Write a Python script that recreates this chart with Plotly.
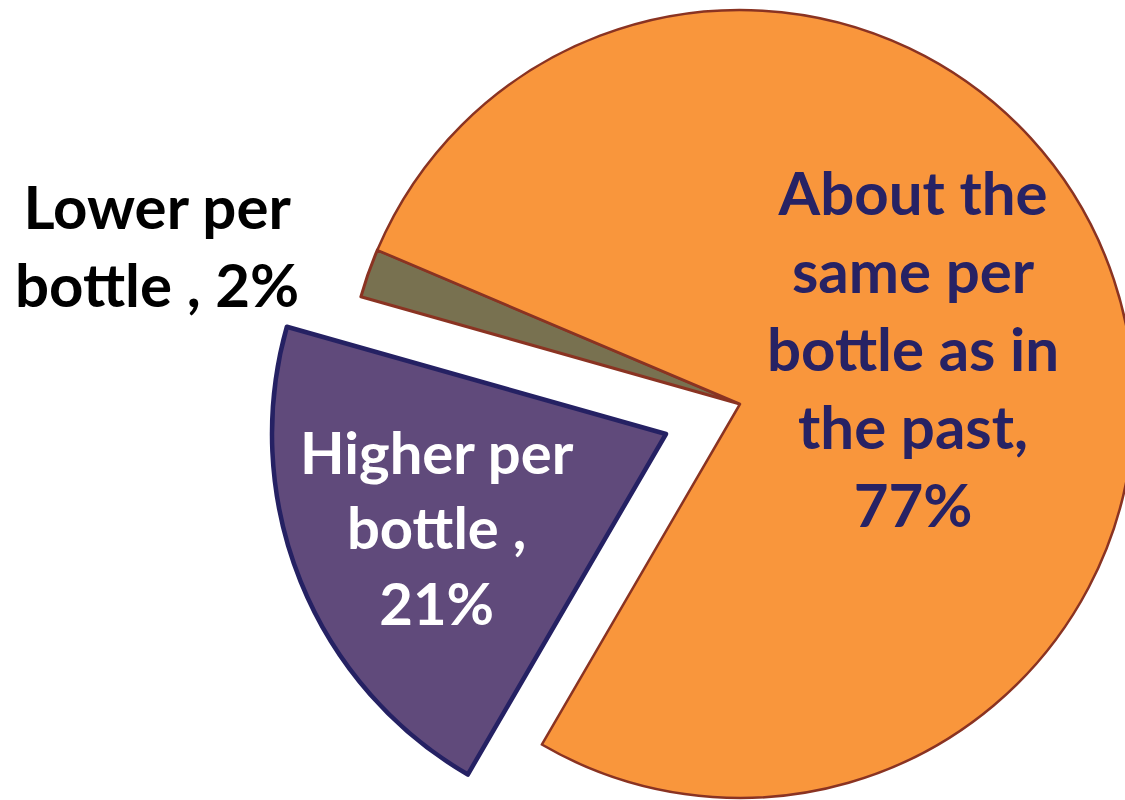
import plotly.graph_objects as go

# Survey answers: how much people spend per bottle compared with the past
categories = ["Higher per bottle ", "Lower per bottle ", "About the same per bottle as in the past"]
shares = [21, 2, 77]
# Display wrapping of each category label
category_lines = [
    ["Higher per", "bottle ,"],
    ["Lower per", "bottle ,"],
    ["About the", "same per", "bottle as in", "the past,"],
]

slice_colors = ["#604A7B", "#787150", "#F9963C"]
border_colors = ["#252163", "#8A3322", "#8A3322"]
border_widths = [4.5, 3, 2.5]
label_colors = ["#FFFFFF", "#000000", "#272264"]

FIG_W, FIG_H = 1140, 830
R = 394                      # pie radius in px
CENTER = (740, 404)          # pie centre in px (from top-left)
PULL_OFFSET = (-74, 30)      # displacement of the exploded "Higher" slice
START = -149.8               # start angle of the first slice, clockwise from 12 o'clock


def domain_for(cx, cy):
    return dict(
        x=[(cx - R) / FIG_W, (cx + R) / FIG_W],
        y=[(FIG_H - (cy + R)) / FIG_H, (FIG_H - (cy - R)) / FIG_H],
    )


def masked(values, keep, base):
    return [c if i in keep else "rgba(0,0,0,0)" for i, c in enumerate(base)]


fig = go.Figure()

# Main pie: "Lower" and "About the same" slices
fig.add_trace(go.Pie(
    labels=categories, values=shares, sort=False, direction="clockwise",
    rotation=START, textinfo="none", hoverinfo="label+percent",
    marker=dict(
        colors=masked(shares, {1, 2}, slice_colors),
        line=dict(color=masked(shares, {1, 2}, border_colors), width=border_widths),
    ),
    domain=domain_for(*CENTER), showlegend=False,
))

# Exploded "Higher" slice, same pie shifted outwards
fig.add_trace(go.Pie(
    labels=categories, values=shares, sort=False, direction="clockwise",
    rotation=START, textinfo="none", hoverinfo="label+percent",
    marker=dict(
        colors=masked(shares, {0}, slice_colors),
        line=dict(color=masked(shares, {0}, border_colors), width=border_widths),
    ),
    domain=domain_for(CENTER[0] + PULL_OFFSET[0], CENTER[1] + PULL_OFFSET[1]),
    showlegend=False,
))

# Data labels: wrapped category name followed by the share
label_pos = [(437, 527), (157, 245), (913, 348)]
label_size = [58, 60, 60]
for i, (lines, val) in enumerate(zip(category_lines, shares)):
    if i == 1:
        text = lines[0] + "<br>" + lines[1] + f" {val}%"
    else:
        text = "<br>".join(lines) + f"<br>{val}%"
    x, y = label_pos[i]
    fig.add_annotation(
        x=x / FIG_W, y=1 - y / FIG_H, xref="paper", yref="paper",
        text=f"<b>{text}</b>", showarrow=False, align="center",
        xanchor="center", yanchor="middle",
        font=dict(family="Lato", size=label_size[i], color=label_colors[i]),
    )

fig.update_layout(
    width=FIG_W, height=FIG_H,
    margin=dict(l=0, r=0, t=0, b=0),
    paper_bgcolor="white", plot_bgcolor="white",
    showlegend=False,
)

fig.write_html(
    "out.html",
    post_script="document.documentElement.style.overflow='hidden';document.body.style.overflow='hidden';document.body.style.margin='0';",
)
